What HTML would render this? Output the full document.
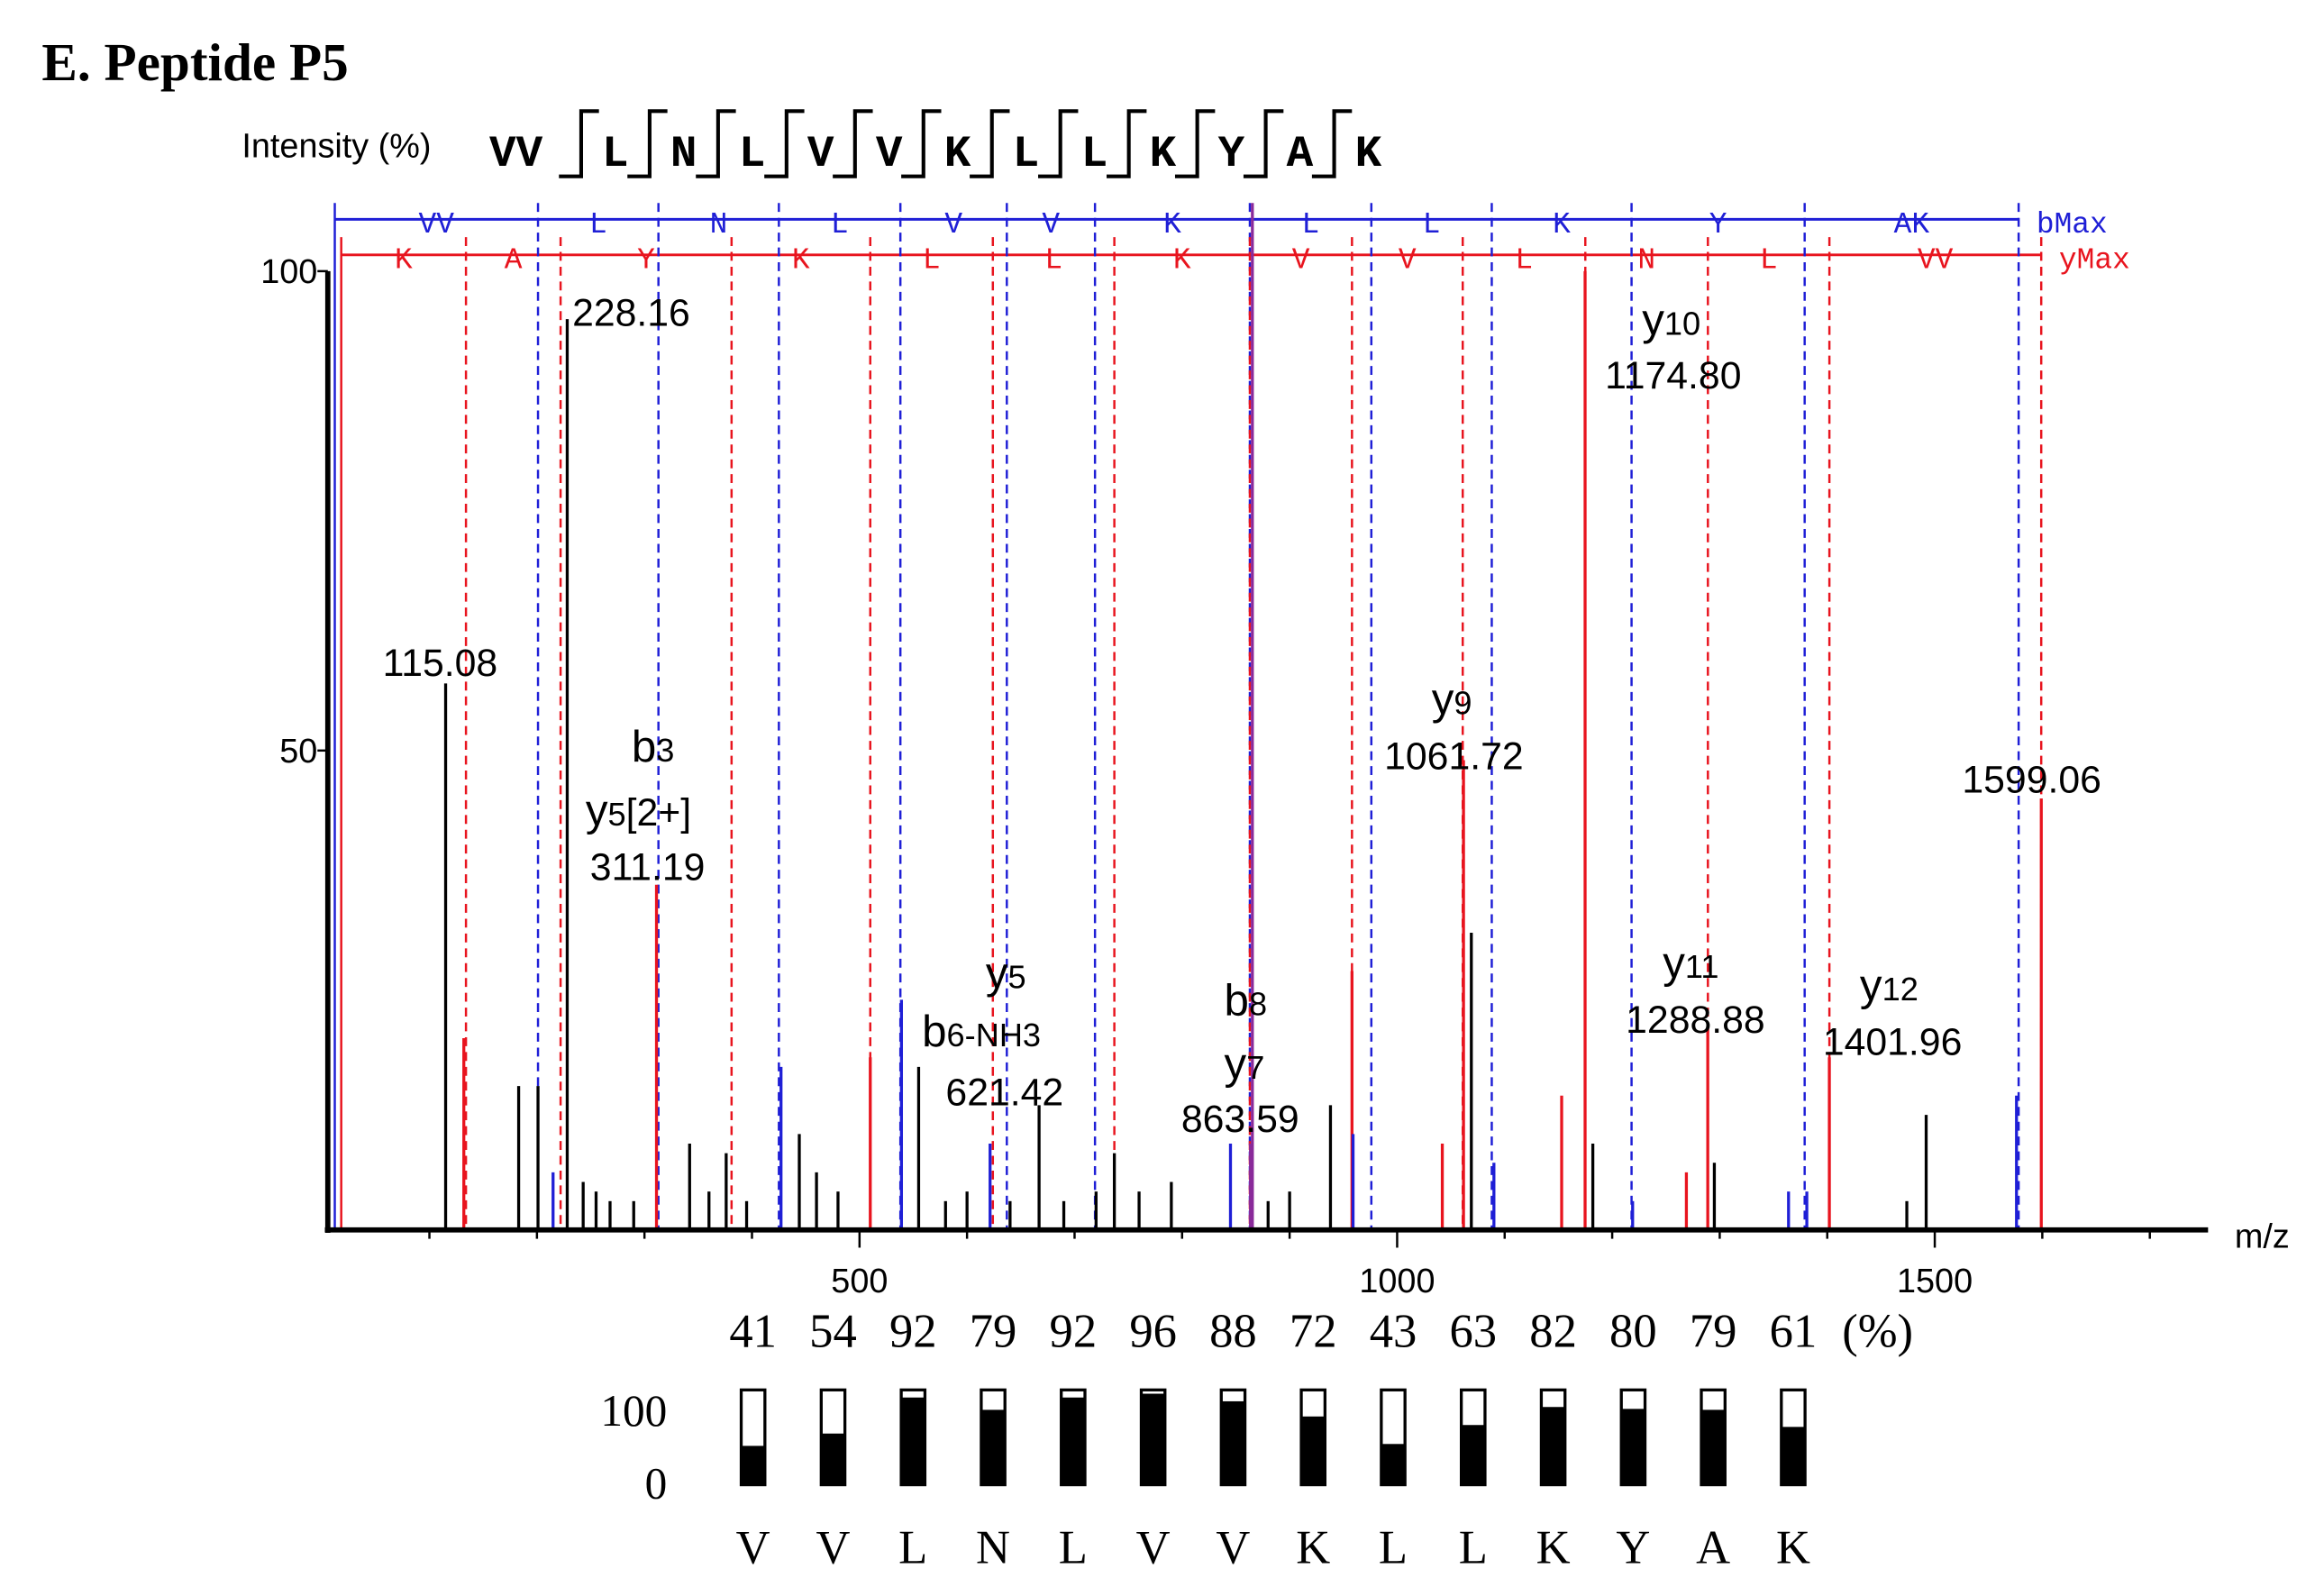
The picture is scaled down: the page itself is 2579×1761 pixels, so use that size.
<!DOCTYPE html>
<html><head><meta charset="utf-8"><style>
html,body{margin:0;padding:0;background:#fff;}
svg{display:block;}
.sans{font-family:"Liberation Sans",sans-serif;}
.serif{font-family:"Liberation Serif",serif;}
.mono{font-family:"Liberation Mono",monospace;}
</style></head><body>
<svg id="chart" width="2579" height="1761" viewBox="0 0 1568 1071" xmlns="http://www.w3.org/2000/svg">
<rect width="1568" height="1071" fill="#fff"/>
<text x="28" y="54" class="serif" font-weight="bold" font-size="36">E. Peptide P5</text>
<text x="163" y="106" class="sans" font-size="23">Intensity (%)</text>
<g id="seq"></g>
<g id="frag"></g>
<g id="peaks"></g>
<g id="axes"></g>
<g id="labels"></g>
<g id="cov"></g>
</svg>
<script>
const NS="http://www.w3.org/2000/svg";
// data
const seqLetters=["V","V","L","N","L","V","V","K","L","L","K","Y","A","K"];
const bLabels=["VV","L","N","L","V","V","K","L","L","K","Y","AK","bMax"];
const bMz=[12,201,313,425,538,637,719,863,976,1088,1218,1379,1578];
const yLabels=["K","A","Y","K","L","L","K","V","V","L","N","L","VV","yMax"];
const yMz=[18,134,222,381,510,624,737,863,958,1061,1175,1289,1402,1599];
const peakMz=[115.08,132,183,201,215,228.16,243,255,268,290,311.19,342,360,376,395,427,444,460,480,510,539,555,580,600,621.42,640,667,690,720,737,760,790,845,863.59,880,900,938,958,959,1042,1061.72,1069,1090,1153,1174.8,1182,1219,1269,1288.88,1295,1364,1381,1401.96,1474,1492,1576,1599.06];
const peakInt=[57,20,15,15,6,95,5,4,3,3,36,9,4,8,3,17,10,6,4,18,24,17,3,4,9,3,13,3,4,8,4,5,9,9,3,4,13,27,10,9,49,31,7,14,100,9,3,6,21,7,4,4,18,3,12,14,45];
const peakColor=["k","r","k","k","b","k","k","k","k","k","r","k","k","k","k","b","k","k","k","r","b","k","k","k","b","k","k","k","k","k","k","k","b","p","k","k","k","r","b","r","r","k","b","r","r","k","b","r","r","k","b","b","r","k","k","b","r"];
const covValues=[41,54,92,79,92,96,88,72,43,63,82,80,79,61];
const xTicks=[500,1000,1500];
// axis functions
const X=m=>217+m*0.7257;
const Y=v=>830-v*6.47;
const col={k:"#000",r:"#e8141e",b:"#1f1fd6",p:"#8a2a9a"};
function el(tag,attrs,parent,text){const e=document.createElementNS(NS,tag);for(const k in attrs)e.setAttribute(k,attrs[k]);if(text!==undefined)e.textContent=text;parent.appendChild(e);return e;}
// sequence header
const seq=document.getElementById('seq');
let t=el('text',{x:330,y:112,"font-size":30,"font-weight":"bold",class:"mono"},seq,"VV");


for(let i=2;i<seqLetters.length;i++){
  const cx=415+(i-2)*46.2;
  t=el('text',{x:cx,y:112,"font-size":30,"font-weight":"bold",class:"mono","text-anchor":"middle"},seq,seqLetters[i]);
  
  
  const lx=cx-23;
  el('path',{d:`M${lx-15} 119 H${lx} V75 H${lx+12}`,fill:"none",stroke:"#000","stroke-width":2.5},seq);
}
// fragment ladder
const frag=document.getElementById('frag');
el('line',{x1:X(bMz[0]),x2:X(bMz[bMz.length-1]),y1:148,y2:148,stroke:col.b,"stroke-width":1.8},frag);
el('line',{x1:X(yMz[0]),x2:X(yMz[yMz.length-1]),y1:172,y2:172,stroke:col.r,"stroke-width":1.8},frag);
bMz.forEach((m,i)=>{
  const l=el('line',{x1:X(m),x2:X(m),y1:137,y2:830,stroke:col.b,"stroke-width":1.5,"stroke-dasharray":i==0?"":"6 4"},frag);
  
  
  const nx=i<bMz.length-1?(X(m)+X(bMz[i+1]))/2:X(m)+36;
  const lb=el('text',{x:nx,y:157,"font-size":20,fill:col.b,class:"mono","text-anchor":"middle"},frag,bLabels[i]);
  
  
});
yMz.forEach((m,i)=>{
  const l=el('line',{x1:X(m),x2:X(m),y1:160,y2:830,stroke:col.r,"stroke-width":1.5,"stroke-dasharray":i==0?"":"6 4"},frag);
  
  
  const nx=i<yMz.length-1?(X(m)+X(yMz[i+1]))/2:X(m)+36;
  const lb=el('text',{x:nx,y:181,"font-size":20,fill:col.r,class:"mono","text-anchor":"middle"},frag,yLabels[i]);
  
  
});
el('line',{x1:845,x2:845,y1:137,y2:830,stroke:col.p,"stroke-width":2},frag);
// peaks
const pk=document.getElementById('peaks');
peakMz.forEach((m,i)=>{
  const l=el('line',{x1:X(m),x2:X(m),y1:830,y2:Y(peakInt[i]),stroke:col[peakColor[i]],"stroke-width":2},pk);
  
  
});
// axes
const ax=document.getElementById('axes');
el('line',{x1:221,x2:221,y1:183,y2:832,stroke:"#000","stroke-width":3.5},ax);
el('line',{x1:219,x2:1490,y1:830,y2:830,stroke:"#000","stroke-width":3.5},ax);
[[100,"100"],[50,"50"]].forEach(([v,s])=>{
  el('line',{x1:214,x2:221,y1:Y(v),y2:Y(v),stroke:"#000","stroke-width":1.5},ax);
  const tl=el('text',{x:214,y:Y(v)+8,"font-size":23,class:"sans","text-anchor":"end"},ax,s);
  
  
});
for(let m=100;m<=1700;m+=100){el('line',{x1:X(m),x2:X(m),y1:830,y2:xTicks.includes(m)?842:836,stroke:"#000","stroke-width":1.5},ax);}
xTicks.forEach(m=>{
  const tl=el('text',{x:X(m),y:872,"font-size":23,class:"sans","text-anchor":"middle"},ax,String(m));
  
  
});
el('text',{x:1508,y:842,"font-size":23,class:"sans"},ax,"m/z");
// labels
const lg=document.getElementById('labels');
function lab(x,y,big,small,rest,fs){
  const tx=el('text',{x:x,y:y,"font-size":fs||30,class:"sans"},lg);
  el('tspan',{},tx,big);
  if(small){el('tspan',{"font-size":22},tx,small);}
  if(rest){el('tspan',{"font-size":26},tx,rest);}
  
  
}
function num(x,y,s){const tx=el('text',{x:x,y:y,"font-size":26,class:"sans"},lg,s);}
num(386,220,"228.16");num(258,456,"115.08");
lab(426,514,"b","3");lab(395,557,"y","5","[2+]");num(398,594,"311.19");
lab(665,667,"y","5");lab(622,706,"b","6-NH3");num(638,746,"621.42");
lab(826,685,"b","8");lab(826,728,"y","7");num(797,764,"863.59");
lab(966,482,"y","9");num(934,519,"1061.72");
lab(1108,226,"y","10");num(1083,262,"1174.80");
lab(1122,660,"y","11");num(1097,697,"1288.88");
lab(1255,675,"y","12");num(1230,712,"1401.96");
num(1324,535,"1599.06");
// coverage
const cov=document.getElementById('cov');
covValues.forEach((v,i)=>{
  const cx=508+i*54;
  const tl=el('text',{x:cx,y:909,"font-size":32,class:"serif","text-anchor":"middle"},cov,String(v));
  
  
  const top=938,h=64;
  const r=el('rect',{x:cx-8,y:top,width:16,height:h,fill:"#fff",stroke:"#000","stroke-width":2},cov);
  
  
  const f=el('rect',{x:cx-8,y:top+h*(1-v/100),width:16,height:h*v/100,fill:"#000"},cov);
  
  
  const lt=el('text',{x:cx,y:1055,"font-size":32,class:"serif","text-anchor":"middle"},cov,seqLetters[i]);
  
  
});
el('text',{x:1243,y:909,"font-size":32,class:"serif"},cov,"(%)");
el('text',{x:450,y:962,"font-size":30,class:"serif","text-anchor":"end"},cov,"100");
el('text',{x:450,y:1011,"font-size":30,class:"serif","text-anchor":"end"},cov,"0");
</script>
</body></html>
